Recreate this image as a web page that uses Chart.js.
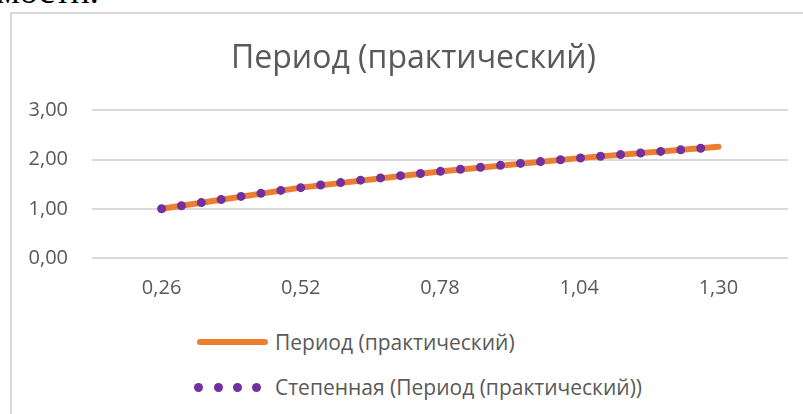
<!DOCTYPE html>
<html>
<head>
<meta charset="utf-8">
<script src="https://cdn.jsdelivr.net/npm/chart.js@4.4.0/dist/chart.umd.min.js"></script>
<style>
  html, body { margin: 0; padding: 0; background: #fff; }
  body { width: 803px; height: 414px; overflow: hidden; position: relative; font-family: "Open Sans", sans-serif; }
  #doc-text { position: absolute; left: -3px; top: -27px; font-family: "Liberation Serif", serif; font-size: 36px; color: #000; line-height: 36px; }
  #box { position: absolute; left: 10px; top: 12px; width: 805px; height: 420px; border: 2px solid #d9d9d9; }
  #wrap { position: absolute; left: 0; top: 0; width: 803px; height: 311px; }
  .leg-item { position: absolute; left: 0; height: 28px; line-height: 28px; color: #595959; font-size: 21px; white-space: nowrap; }
  .leg-line { position: absolute; height: 6px; border-radius: 3px; }
  .leg-dot { position: absolute; width: 9px; height: 9px; border-radius: 50%; }
</style>
</head>
<body>
<div id="doc-text">мости.</div>
<div id="box">
  <div id="wrap"><canvas id="periodChart"></canvas></div>
  <div id="legend"></div>
</div>
<script>
// Данные графика
const lengths = ['0,26', '0,52', '0,78', '1,04', '1,30'];
const periodValues = [1.00, 1.43, 1.76, 2.03, 2.26];
const trendValues = [1.00, 1.43, 1.76, 2.03, 2.26];
const yTicks = [0, 1, 2, 3];

const titleText = 'Период (практический)';
const seriesName = 'Период (практический)';
const trendName = 'Степенная (Период (практический))';

const orange = '#ED7D31';
const purple = '#7030A0';
const textColor = '#595959';
const fontFamily = '"Open Sans", sans-serif';

const config = {
    type: 'line',
    data: {
        labels: lengths,
        datasets: [{
            label: seriesName,
            data: periodValues,
            borderColor: orange,
            backgroundColor: orange,
            borderWidth: 6,
            borderCapStyle: 'round',
            borderJoinStyle: 'round',
            pointRadius: 0,
            tension: 0,
            order: 2
        }, {
            label: trendName,
            data: trendValues,
            borderColor: purple,
            backgroundColor: purple,
            borderWidth: 9,
            borderCapStyle: 'round',
            borderDash: [0, 20.1],
            pointRadius: 0,
            cubicInterpolationMode: 'monotone',
            order: 1
        }]
    },
    options: {
        responsive: true,
        maintainAspectRatio: false,
        animation: false,
        layout: { padding: { left: 0, right: 0, top: 0, bottom: 15 } },
        scales: {
            x: {
                offset: true,
                grid: { display: false },
                border: { display: false },
                ticks: {
                    color: textColor,
                    padding: 10,
                    maxRotation: 0,
                    font: { family: fontFamily, size: 20 }
                }
            },
            y: {
                min: yTicks[0],
                max: yTicks[yTicks.length - 1],
                afterBuildTicks: (scale) => { scale.ticks = yTicks.map(v => ({ value: v })); },
                afterFit: (scale) => { scale.width = 80; },
                grid: { color: '#d9d9d9', lineWidth: 2, drawTicks: false },
                border: { display: false },
                ticks: {
                    color: textColor,
                    padding: 24,
                    font: { family: fontFamily, size: 20 },
                    callback: (v) => Number(v).toFixed(2).replace('.', ',')
                }
            },
            // пустая правая ось — только для отступа справа
            yRight: {
                type: 'linear',
                position: 'right',
                afterFit: (scale) => { scale.width = 27; },
                grid: { display: false },
                border: { display: false },
                ticks: { display: false }
            }
        },
        plugins: {
            legend: { display: false },
            tooltip: { enabled: false },
            title: {
                display: true,
                text: titleText,
                color: textColor,
                font: { family: fontFamily, size: 32, weight: 'normal' },
                padding: { top: 26, bottom: 32 }
            }
        }
    }
};

const ctx = document.getElementById('periodChart').getContext('2d');
const periodChart = new Chart(ctx, config);

// Легенда (два ряда, как в исходнике)
const legend = document.getElementById('legend');
const legendRows = [328, 373]; // центры строк в координатах блока
periodChart.data.datasets.forEach((ds, i) => {
    const cy = legendRows[i];
    if (ds.borderDash && ds.borderDash.length) {
        [186, 206, 225, 244].forEach((cx) => {
            const d = document.createElement('div');
            d.className = 'leg-dot';
            d.style.background = ds.borderColor;
            d.style.left = (cx - 4.5) + 'px';
            d.style.top = (cy - 4.5) + 'px';
            legend.appendChild(d);
        });
    } else {
        const l = document.createElement('div');
        l.className = 'leg-line';
        l.style.background = ds.borderColor;
        l.style.left = '185px';
        l.style.width = '71px';
        l.style.top = (cy - 3) + 'px';
        legend.appendChild(l);
    }
    const t = document.createElement('div');
    t.className = 'leg-item';
    t.textContent = ds.label;
    t.style.left = '263px';
    t.style.top = (cy - 14) + 'px';
    legend.appendChild(t);
});
</script>
</body>
</html>
